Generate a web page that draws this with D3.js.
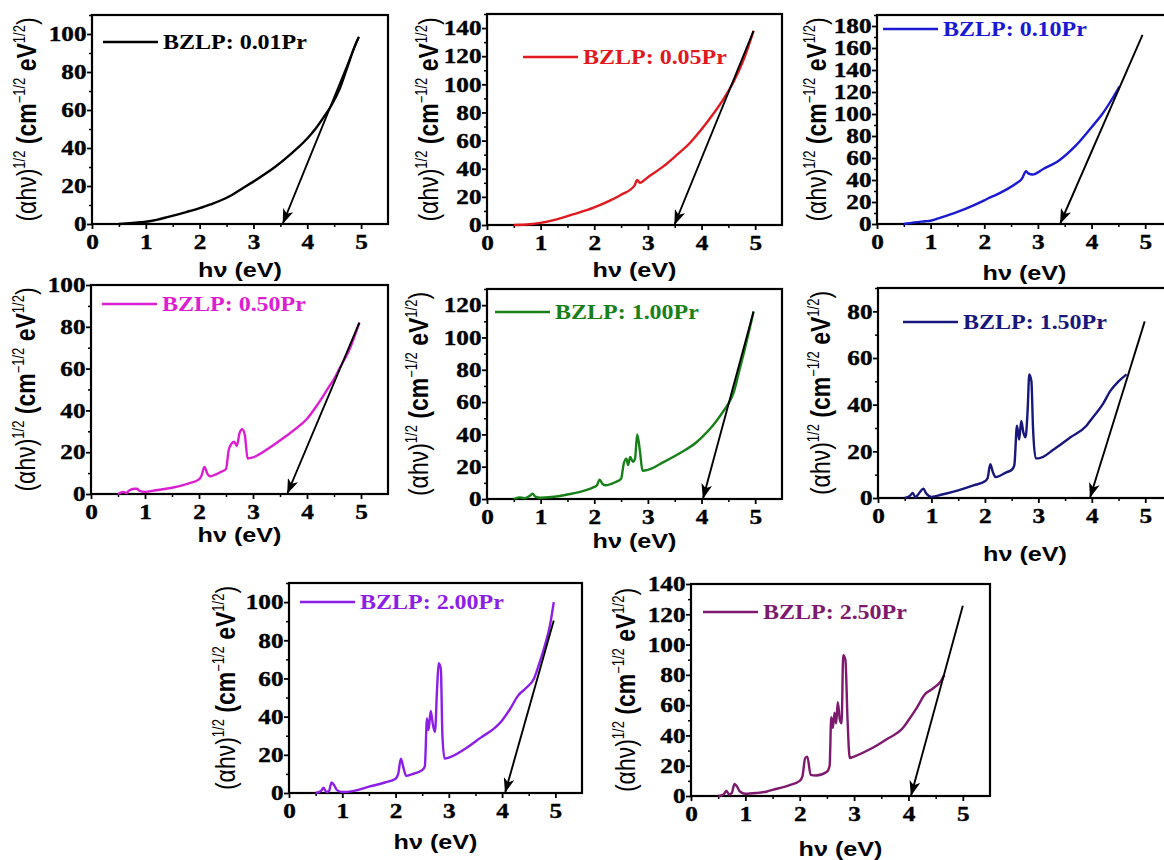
<!DOCTYPE html>
<html>
<head>
<meta charset="utf-8">
<script src="https://cdn.jsdelivr.net/npm/d3@7"></script>
<style>
  body { margin: 0; background: #fff; }
  svg { display: block; }
</style>
</head>
<body>
<svg id="fig" width="1164" height="860"></svg>
<script>
// sample names and line colours
var labels = ["BZLP: 0.01Pr", "BZLP: 0.05Pr", "BZLP: 0.10Pr", "BZLP: 0.50Pr",
              "BZLP: 1.00Pr", "BZLP: 1.50Pr", "BZLP: 2.00Pr", "BZLP: 2.50Pr"];
var colors = ["#000000", "#e0191e", "#1a1ad2", "#dc1ed2",
              "#188018", "#18187c", "#8c1ee6", "#7d1a6e"];

// photon energy hv (eV) / (alpha hv)^1/2
var hv001  = [0.5, 0.7, 0.9, 1.0, 1.2, 1.4, 1.6, 1.8, 2.0, 2.2, 2.4, 2.6, 2.8, 3.0, 3.2, 3.4, 3.6, 3.8, 4.0, 4.15, 4.3, 4.45, 4.6, 4.75, 4.88, 4.96];
var ahv001 = [0, 0.4, 0.9, 1.2, 2.2, 3.6, 5.1, 6.7, 8.3, 10.3, 12.5, 15.3, 18.8, 22.3, 26, 30, 34.5, 39.5, 45, 50, 56, 62.5, 71, 83, 93.5, 98.5];

var hv005  = [0.5, 0.8, 1.0, 1.3, 1.6, 2.0, 2.3, 2.5, 2.75, 2.8, 2.85, 3.0, 3.3, 3.5, 3.8, 4.0, 4.2, 4.4, 4.6, 4.8, 4.97];
var ahv005 = [0, 0.5, 1.5, 4, 7.5, 12.5, 17.5, 21.5, 28, 32, 30, 34, 42, 48.5, 59, 68, 78, 89, 102, 119, 138];

var hv010  = [0.5, 0.7, 0.9, 1.0, 1.2, 1.5, 1.8, 2.0, 2.1, 2.2, 2.4, 2.6, 2.7, 2.78, 2.82, 2.9, 3.1, 3.4, 3.7, 4.0, 4.2, 4.4, 4.52];
var ahv010 = [0, 1.5, 2.5, 3, 6, 11, 17, 21.5, 24, 26, 31, 37, 41, 48, 46, 45, 50, 58, 71, 88, 100, 115, 125];

var hv050  = [0.5, 0.6, 0.65, 0.7, 0.8, 0.85, 0.9, 1.0, 1.2, 1.5, 1.8, 2.0, 2.05, 2.1, 2.15, 2.2, 2.4, 2.5, 2.55, 2.6, 2.65, 2.7, 2.75, 2.8, 2.85, 2.9, 3.0, 3.3, 3.6, 3.9, 4.0, 4.2, 4.4, 4.5, 4.6, 4.8, 4.97];
var ahv050 = [0, 1, 0.5, 1.5, 2.5, 2.5, 1.5, 1, 1.8, 3, 5, 7, 9, 13, 10, 8.5, 10.5, 12, 21, 24, 25, 23, 29, 31, 28, 17, 17.5, 22, 27.5, 33.5, 36, 43, 51, 55, 60, 70, 82];

var hv100  = [0.5, 0.6, 0.7, 0.8, 0.85, 0.9, 1.0, 1.2, 1.5, 1.8, 2.0, 2.05, 2.1, 2.15, 2.2, 2.4, 2.5, 2.55, 2.6, 2.63, 2.67, 2.72, 2.76, 2.8, 2.85, 2.9, 3.0, 3.3, 3.6, 3.9, 4.0, 4.2, 4.4, 4.5, 4.6, 4.7, 4.8, 4.97];
var ahv100 = [0, 1, 0.5, 2, 3.3, 1.5, 0.8, 1.2, 2.8, 5, 7.5, 8.5, 12, 9.5, 8.5, 10.5, 12.5, 22, 25, 21, 26, 23, 25, 40, 30, 17.5, 18, 23, 28.5, 35, 38, 45, 54, 59, 66, 79, 92, 116];

var hv150  = [0.5, 0.6, 0.65, 0.7, 0.75, 0.8, 0.85, 0.9, 1.0, 1.2, 1.5, 1.8, 2.0, 2.05, 2.1, 2.15, 2.2, 2.4, 2.5, 2.55, 2.6, 2.64, 2.68, 2.72, 2.76, 2.8, 2.83, 2.87, 2.9, 2.95, 3.0, 3.3, 3.6, 3.9, 4.0, 4.2, 4.35, 4.5, 4.65];
var ahv150 = [0, 1, 2.2, 0.3, 1.5, 3, 4, 2, 0.5, 1.5, 3.3, 5.5, 7.2, 8.5, 14.5, 11, 9, 11, 12, 14, 31, 25, 33, 28, 26, 38, 53, 50, 30, 17, 17, 21, 26, 31, 34, 40, 46, 50, 53];

var hv200  = [0.5, 0.6, 0.65, 0.7, 0.75, 0.8, 0.85, 0.9, 1.0, 1.2, 1.5, 1.8, 2.0, 2.05, 2.1, 2.15, 2.2, 2.3, 2.5, 2.55, 2.59, 2.62, 2.66, 2.7, 2.74, 2.78, 2.81, 2.85, 2.88, 2.92, 3.0, 3.3, 3.6, 3.9, 4.0, 4.15, 4.3, 4.45, 4.6, 4.7, 4.8, 4.9, 4.97];
var ahv200 = [0, 1, 2.8, 0.5, 1, 5.5, 4, 1.5, 0.5, 1, 3.3, 5.5, 7.5, 10, 18, 13, 9, 9.8, 12, 14, 39, 33, 43, 36, 32, 55, 68, 65, 30, 18, 18.5, 23, 29, 35, 38, 44, 51, 55, 60, 68, 77, 88, 100];

var hv250  = [0.5, 0.6, 0.65, 0.7, 0.75, 0.8, 0.85, 0.9, 1.0, 1.2, 1.4, 1.5, 1.8, 2.0, 2.05, 2.1, 2.14, 2.2, 2.3, 2.5, 2.55, 2.58, 2.61, 2.64, 2.67, 2.7, 2.74, 2.77, 2.8, 2.84, 2.88, 2.92, 3.0, 3.3, 3.6, 3.9, 4.0, 4.15, 4.3, 4.45, 4.6, 4.66];
var ahv250 = [0, 1, 3.5, 1, 2, 8, 6, 3, 1.5, 2, 3, 4, 7, 10, 13, 25, 26, 14, 13.5, 16, 20, 52, 45, 55, 48, 62, 50, 48, 93, 90, 50, 25, 26, 31, 37.5, 45, 50, 58, 67, 71, 76, 80];

var hvSeries  = [hv001, hv005, hv010, hv050, hv100, hv150, hv200, hv250];
var ahvSeries = [ahv001, ahv005, ahv010, ahv050, ahv100, ahv150, ahv200, ahv250];

// extrapolated band gap (arrow tip) and upper end of the tangent arrow
var egap      = [3.55, 3.5, 3.42, 3.64, 4.03, 3.97, 4.06, 4.05];
var arrowTopX = [4.95, 4.97, 4.95, 4.97, 4.97, 4.99, 4.97, 5.0];
var arrowTopY = [98, 138, 172, 82, 116, 75.7, 90.3, 125.6];

// axis ranges and tick values
var yMax   = [110, 150, 190, 100, 130, 90, 110, 140];
var xMax   = 5.5;
var xTicks = [0, 1, 2, 3, 4, 5];
var yStep  = 20;

// panel boxes in pixels (l,r,t,b), y-label centre x, x-label baseline, legend spot
var layout = [
  {l: 92,  r: 388,  t: 15,  b: 224, ylx: 26,  xlb: 277, lx: 103, ly: 42},
  {l: 487, r: 782,  t: 14,  b: 225, ylx: 428, xlb: 277, lx: 523, ly: 57},
  {l: 877, r: 1172, t: 15,  b: 224, ylx: 816, xlb: 280, lx: 883, ly: 29},
  {l: 91,  r: 388,  t: 285, b: 494, ylx: 25,  xlb: 542, lx: 102, ly: 304},
  {l: 487, r: 782,  t: 289, b: 499, ylx: 418, xlb: 548, lx: 495, ly: 312},
  {l: 878, r: 1172, t: 288, b: 498, ylx: 820, xlb: 561, lx: 903, ly: 322},
  {l: 289, r: 582,  t: 583, b: 793, ylx: 225, xlb: 849, lx: 300, ly: 602},
  {l: 691, r: 990,  t: 584, b: 796, ylx: 625, xlb: 856, lx: 703, ly: 612}
];

var SX = 1.2; // the source figure is stretched sideways, text too
var serif = "'Liberation Serif', 'Times New Roman', serif";
var sans = "'Liberation Sans', Arial, sans-serif";

var svg = d3.select("#fig");

svg.append("defs").append("marker")
    .attr("id", "head")
    .attr("markerUnits", "userSpaceOnUse")
    .attr("viewBox", "0 0 15 11")
    .attr("refX", 14).attr("refY", 5.5)
    .attr("markerWidth", 15).attr("markerHeight", 11)
    .attr("orient", "auto")
  .append("path")
    .attr("d", "M0,0 L15,5.5 L0,11 L4,5.5 Z")
    .attr("fill", "#000");

function drawPanel(i) {
  var L = layout[i];
  var g = svg.append("g");
  var x = d3.scaleLinear().domain([0, xMax]).range([L.l, L.r]);
  var y = d3.scaleLinear().domain([0, yMax[i]]).range([L.b, L.t]);

  var yTicks = d3.range(0, yMax[i] + 0.1, yStep);
  var yMinor = d3.range(10, yMax[i] + 0.1, yStep);

  // minor ticks
  g.append("g").attr("transform", "translate(0," + L.b + ")")
    .call(d3.axisBottom(x).tickValues([0.5, 1.5, 2.5, 3.5, 4.5]).tickSize(3).tickFormat(""))
    .call(function (a) { a.select(".domain").remove(); })
    .selectAll("line").attr("stroke-width", 1.5);
  g.append("g").attr("transform", "translate(" + L.l + ",0)")
    .call(d3.axisLeft(y).tickValues(yMinor).tickSize(3).tickFormat(""))
    .call(function (a) { a.select(".domain").remove(); })
    .selectAll("line").attr("stroke-width", 1.5);

  // major ticks + labels
  var xa = g.append("g").attr("transform", "translate(0," + L.b + ")")
    .call(d3.axisBottom(x).tickValues(xTicks).tickSize(5).tickPadding(5).tickFormat(d3.format("d")));
  var ya = g.append("g").attr("transform", "translate(" + L.l + ",0)")
    .call(d3.axisLeft(y).tickValues(yTicks).tickSize(5).tickPadding(1).tickFormat(d3.format("d")));
  [xa, ya].forEach(function (a) {
    a.attr("font-family", null).attr("font-size", null);
    a.select(".domain").remove();
    a.selectAll("line").attr("stroke-width", 1.8);
    a.selectAll("text")
      .style("font-family", serif).style("font-weight", "bold")
      .style("font-size", "21px").attr("fill", "#000")
      .attr("stroke", "#000").attr("stroke-width", 0.4)
      .attr("transform", "scale(" + SX + ",1)");
  });
  ya.selectAll("text").attr("x", -5.5 / SX);

  // frame
  g.append("rect")
    .attr("x", L.l).attr("y", L.t)
    .attr("width", L.r - L.l).attr("height", L.b - L.t)
    .attr("fill", "none").attr("stroke", "#000").attr("stroke-width", 2.2);

  // curve
  var pts = d3.zip(hvSeries[i], ahvSeries[i]);
  g.append("path")
    .datum(pts)
    .attr("fill", "none")
    .attr("stroke", colors[i])
    .attr("stroke-width", 2.4)
    .attr("stroke-linejoin", "round")
    .attr("d", d3.line().curve(d3.curveMonotoneX)
      .x(function (d) { return x(d[0]); }).y(function (d) { return y(d[1]); }));

  // tangent arrow down to the band gap
  g.append("line")
    .attr("x1", x(arrowTopX[i])).attr("y1", y(arrowTopY[i]))
    .attr("x2", x(egap[i])).attr("y2", y(0) - 1)
    .attr("stroke", "#000").attr("stroke-width", 1.9)
    .attr("marker-end", "url(#head)");

  // legend
  g.append("line")
    .attr("x1", L.lx).attr("x2", L.lx + 55)
    .attr("y1", L.ly).attr("y2", L.ly)
    .attr("stroke", colors[i]).attr("stroke-width", 2.4);
  g.append("g")
    .attr("transform", "translate(" + (L.lx + 60) + "," + (L.ly + 6.5) + ") scale(" + SX + ",1)")
    .append("text")
    .style("font-family", serif).style("font-weight", "bold").style("font-size", "20px")
    .attr("fill", colors[i])
    .text(labels[i]);

  // x label
  g.append("g")
    .attr("transform", "translate(" + ((L.l + Math.min(L.r, 1172)) / 2) + "," + L.xlb + ") scale(" + SX + ",1)")
    .append("text")
    .attr("text-anchor", "middle")
    .style("font-family", sans).style("font-weight", "bold").style("font-size", "21px")
    .text("h\u03bd (eV)");

  // y label
  var yl = g.append("g")
    .attr("transform", "translate(" + L.ylx + "," + ((L.t + L.b) / 2) + ") scale(" + SX + ",1) rotate(-90)")
    .append("text")
    .attr("text-anchor", "middle")
    .attr("dy", "0.35em")
    .style("font-family", sans).style("font-size", "23px");
  var parts = [
    ["(\u03b1h\u03bd)", "normal", 0],
    ["1/2", "normal", 1],
    [" (cm", "bold", 0],
    ["\u22121/2", "normal", 1],
    [" eV", "bold", 0],
    ["1/2", "normal", 1],
    [")", "normal", 0]
  ];
  var shifted = false;
  parts.forEach(function (p) {
    var t = yl.append("tspan").style("font-weight", p[1]).text(p[0]);
    if (p[2]) {
      t.style("font-size", "13px").attr("dy", shifted ? 0 : -9);
      shifted = true;
    } else {
      if (shifted) t.attr("dy", 9);
      shifted = false;
    }
  });
}

for (var i = 0; i < labels.length; i++) drawPanel(i);
</script>
</body>
</html>
